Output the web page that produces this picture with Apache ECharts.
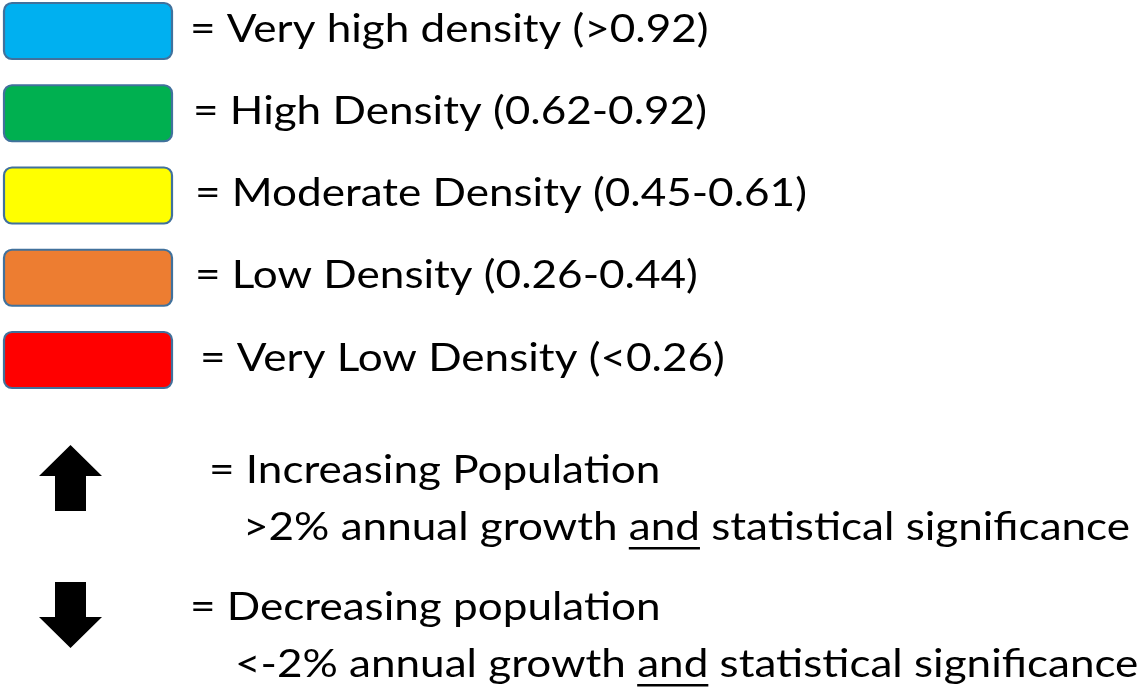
<!DOCTYPE html>
<html>
<head>
<meta charset="utf-8">
<script src="https://cdn.jsdelivr.net/npm/echarts@6/dist/echarts.min.js"></script>
<style>
html,body{margin:0;padding:0;background:#fff;}
#chart{width:1143px;height:692px;}
</style>
</head>
<body>
<div id="chart"></div>
<script>
// ---- data ----
const densityLabels = [
  '= Very high density (>0.92)',
  '= High Density (0.62-0.92)',
  '= Moderate Density (0.45-0.61)',
  '= Low Density (0.26-0.44)',
  '= Very Low Density (<0.26)'
];
const densityColors = ['#00B0F0', '#00B050', '#FFFF00', '#ED7D31', '#FF0000'];
const trendLabels = ['= Increasing Population', '= Decreasing population'];
const trendDirections = ['up', 'down'];
const trendNotes = [
  ['>2% annual growth ', 'and', ' statistical significance'],
  ['<-2% annual growth ', 'and', ' statistical significance']
];

// ---- layout / style ----
const FONT_FAMILY = 'Lato, "Open Sans", sans-serif';
const FONT_SIZE = 39;
const FONT = FONT_SIZE + 'px ' + FONT_FAMILY;
const densityIndent = [190, 193, 195, 195, 200];
const trendIndent = [[209, 243], [190, 235]];

const ctx = document.createElement('canvas').getContext('2d');
ctx.font = FONT;
const refWidth = ctx.measureText(trendNotes[0].join('')).width;
const SX = 887 / refWidth;

function textEl(str, x, y) {
  return {
    type: 'text',
    x: x, y: y,
    scaleX: SX,
    style: { text: str, x: 0, y: 0, font: FONT, fill: '#000', verticalAlign: 'middle' }
  };
}

const chart = echarts.init(document.getElementById('chart'), null, { renderer: 'canvas' });

const option = {
  backgroundColor: '#fff',
  animation: false,
  grid: [
    { left: 0, right: 0, top: 31, height: 329 },
    { left: 0, right: 0, top: 478, height: 137 }
  ],
  xAxis: [
    { type: 'value', gridIndex: 0, min: 0, max: 1, show: false },
    { type: 'value', gridIndex: 1, min: 0, max: 1, show: false }
  ],
  yAxis: [
    { type: 'value', gridIndex: 0, min: 0, max: densityLabels.length - 1, inverse: true, show: false },
    { type: 'value', gridIndex: 1, min: 0, max: trendLabels.length - 1, inverse: true, show: false }
  ],
  series: [
    {
      type: 'custom',
      xAxisIndex: 0, yAxisIndex: 0,
      clip: false,
      data: densityLabels.map((l, i) => [0, i]),
      renderItem: function (params, api) {
        const i = api.value(1);
        const cy = api.coord([0, i])[1];
        return {
          type: 'group',
          children: [
            {
              type: 'rect',
              shape: { x: 4, y: cy - 28, width: 168, height: 56, r: 8 },
              style: { fill: densityColors[i], stroke: '#41719C', lineWidth: 2.2 }
            },
            textEl(densityLabels[i], densityIndent[i], cy - 2)
          ]
        };
      }
    },
    {
      type: 'custom',
      xAxisIndex: 1, yAxisIndex: 1,
      clip: false,
      data: trendLabels.map((l, i) => [0, i]),
      renderItem: function (params, api) {
        const i = api.value(1);
        const cy = api.coord([0, i])[1];
        const cx = 70.5;
        const s = trendDirections[i] === 'up' ? 1 : -1;
        const pts = [[0, -33], [31.5, -2], [15.5, -2], [15.5, 33], [-15.5, 33], [-15.5, -2], [-31.5, -2]]
          .map(p => [cx + p[0], cy + s * p[1]]);
        const notes = trendNotes[i];
        const x2 = trendIndent[i][1];
        const y2 = cy + 49;
        const preW = ctx.measureText(notes[0]).width * SX;
        const andW = ctx.measureText(notes[1]).width * SX;
        return {
          type: 'group',
          children: [
            { type: 'polygon', shape: { points: pts }, style: { fill: '#000' } },
            textEl(trendLabels[i], trendIndent[i][0], cy - 8),
            textEl(notes.join(''), x2, y2),
            {
              type: 'rect',
              shape: { x: x2 + preW, y: y2 + 20, width: andW, height: 2.6 },
              style: { fill: '#000' }
            }
          ]
        };
      }
    }
  ]
};
chart.setOption(option);
</script>
</body>
</html>
